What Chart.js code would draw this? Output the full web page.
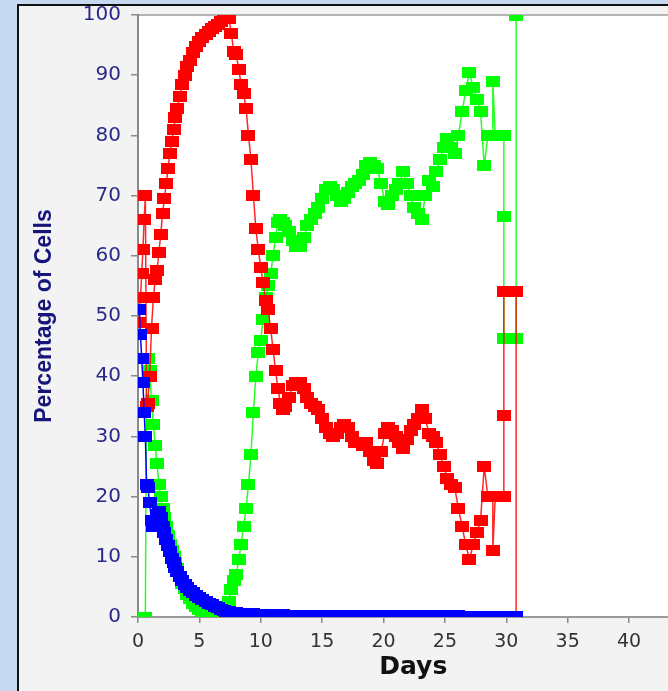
<!DOCTYPE html>
<html><head><meta charset="utf-8">
<script src="https://cdn.jsdelivr.net/npm/chart.js@4/dist/chart.umd.min.js"></script>
<style>
html,body{margin:0;padding:0;width:668px;height:691px;overflow:hidden;background:#c6d9f0;}
#panel{position:absolute;left:17px;top:4px;width:700px;height:700px;border-left:2px solid #111;border-top:2px solid #111;background:#f3f3f3;}
#c{position:absolute;left:0;top:0;}
</style></head><body>
<div id="panel"></div>
<canvas id="c" width="694" height="691"></canvas>
<script>
const days = [0.1,0.2,0.3,0.4,0.5,0.6,0.7,0.8,0.95,1.1,1.25,1.4,1.55,1.7,1.85,2.0,2.15,2.3,2.45,2.6,2.75,2.9,3.05,3.2,3.4,3.6,3.8,4.0,4.25,4.5,4.75,5.0,5.25,5.5,5.75,6.0,6.25,6.5,6.75,7.0,
7.2,7.4,7.6,7.8,8.0,8.2,8.4,8.6,8.8,9.0,9.2,9.4,9.6,9.8,10.0,10.2,10.4,10.6,10.8,11.0,11.2,11.4,11.6,11.8,
12.0,12.3,12.6,12.9,13.2,13.5,13.8,14.1,14.4,14.7,15.0,15.3,15.6,15.9,16.2,16.5,16.8,17.1,17.4,17.7,18.0,18.3,18.6,18.9,19.2,19.5,19.8,20.1,20.4,20.7,21.0,21.3,21.6,21.9,22.2,22.5,22.8,23.1,23.4,23.7,24.0,24.3,24.6,24.9,25.2,25.5,25.8,26.1,
26.4,26.7,27.0,27.3,27.6,27.9,28.2,28.5,28.9,28.9,29.1,29.8,29.8,29.8,30.8,30.8];

const redValues = [49,53,57,61,66,70,35,35.5,40,48,53,56,57.5,60.5,63.5,67,69.5,72,74.5,77,79,81,83,84.5,86.5,88.5,90,91.5,92.5,93.7,94.7,95.6,96.2,96.8,97.3,97.7,98.1,98.5,99,99.5,
99.8,99.5,97,94,93.5,91,88.5,87,84.5,80,76,70,64.5,61,58,55.5,52.5,51,48,44.5,41,38,35.5,34.5,
35,36.5,38.5,39,39,38,36.5,35.5,35,34.5,33,31.5,30.5,30,30.5,31.5,32,31.5,30,29,29,28.5,29,27.5,26,25.5,27.5,30.5,31.5,31,30,29,28,29.5,31,32,33,34.5,33,30.5,30,29,27,25,23,22,21.5,18,
15,12,9.5,12,14,16,25,20,20,11,20,20,33.5,54,54,0];

const greenValues = [0,0,0,0,0,0,43,43,41,36,32,28.5,25.5,22,20,18,16.5,15,13.5,12,11,10,9,8,6.8,5.6,4.7,3.8,3.0,2.3,1.7,1.2,0.9,0.6,0.4,0.3,0.2,0.1,0,0,
0.3,2.5,4.5,6,7,9.5,12,15,18,22,27,34,40,44,46,49.5,53,55,57,60,63,65.5,66,65.5,
65,64,62.5,61.5,61.5,63,65,66,67,68,69.5,71,71.5,71,70,69,69.5,70.5,71.5,72,72.5,73.5,75,75.5,75,74.5,72,69,68.5,70,71,72,74,72,70,68,67,66,70,72.5,71.5,74,76,78,79.5,78,77,80,
84,87.5,90.5,88,86,84,75,80,80,89,80,80,66.5,46.3,46.3,100];

const blueValues = [51,47,43,39,34,30,22,21.5,19,16,15,15.5,17,17.5,16.5,15,14,12.8,11.8,10.8,9.8,9,8.2,7.5,6.7,6,5.4,4.9,4.4,4.0,3.6,3.2,2.9,2.6,2.3,2.0,1.7,1.5,1.2,1.0,
0.9,0.85,0.8,0.75,0.7,0.65,0.6,0.6,0.55,0.5,0.5,0.5,0.45,0.45,0.45,0.4,0.4,0.4,0.4,0.4,0.35,0.35,0.35,0.35,
0.3,0.3,0.3,0.3,0.3,0.3,0.3,0.3,0.3,0.3,0.3,0.3,0.3,0.3,0.3,0.3,0.3,0.3,0.3,0.3,0.3,0.3,0.3,0.3,0.3,0.3,0.3,0.3,0.3,0.3,0.3,0.3,0.3,0.3,0.3,0.3,0.3,0.3,0.3,0.3,0.3,0.3,0.2,0.2,0.2,0.2,0.2,0.2,
0.15,0.15,0.15,0.15,0.15,0.15,0.15,0.15,0.15,0.15,0.15,0.15,0.15,0.15,0.15,0];

const xTickStep = 5;
const yTickStep = 10;

function marker(color){
  const c = document.createElement('canvas');
  c.width = 14; c.height = 11;
  const g = c.getContext('2d');
  g.fillStyle = color; g.fillRect(0,0,14,11);
  return c;
}
function series(vals){ return days.map((d,i)=>({x:d,y:vals[i]})); }

const bgPlugin = {
  id:'bg',
  beforeDraw(chart){
    const {ctx, chartArea:a} = chart;
    ctx.save();
    ctx.fillStyle = '#ffffff';
    ctx.fillRect(a.left, a.top, a.right - a.left, a.bottom - a.top);
    ctx.strokeStyle = '#b4b4b4';
    ctx.lineWidth = 2;
    ctx.beginPath(); ctx.moveTo(a.left, a.top); ctx.lineTo(a.right, a.top); ctx.stroke();
    ctx.restore();
  }
};

new Chart(document.getElementById('c'), {
  type:'scatter',
  data:{ datasets:[
    {label:'Blue', data:series(blueValues), showLine:true, borderColor:'#0000ff', backgroundColor:'#0000ff', borderWidth:1.5, pointStyle:marker('#0000ff'), clip:0},
    {label:'Red', data:series(redValues), showLine:true, borderColor:'rgba(255,0,0,0.85)', backgroundColor:'#ff0000', borderWidth:1.5, pointStyle:marker('#ff0000'), clip:0},
    {label:'Green', data:series(greenValues), showLine:true, borderColor:'rgba(0,255,0,0.85)', backgroundColor:'#00ff00', borderWidth:1.5, pointStyle:marker('#00ff00'), clip:0}
  ]},
  options:{
    responsive:false, animation:false, events:[],
    layout:{padding:{top:15,left:0,right:0,bottom:0}},
    plugins:{legend:{display:false}, tooltip:{enabled:false}},
    scales:{
      x:{type:'linear', min:0, max:44.84,
        afterFit(s){ s.height = 74; },
        ticks:{stepSize:xTickStep, includeBounds:false, maxRotation:0, color:'#333', padding:8, font:{family:'DejaVu Sans', size:19}},
        grid:{drawOnChartArea:false, drawTicks:true, tickLength:6, color:'#8a8a8a', lineWidth:1.5},
        border:{color:'#9a9a9a', width:2},
        title:{display:true, text:'Days', color:'#111', font:{family:'DejaVu Sans', size:25, weight:'bold'}, padding:{top:0,bottom:9}}
      },
      y:{min:0, max:100,
        afterFit(s){ s.width = 138; s.paddingTop = 0; s.paddingBottom = 0; },
        ticks:{stepSize:yTickStep, color:'#2a2a8a', padding:10, font:{family:'DejaVu Sans', size:20}},
        grid:{drawOnChartArea:false, drawTicks:true, tickLength:7, color:'#8a8a8a', lineWidth:1.5},
        border:{color:'#8a8a8a', width:2},
        title:{display:true, text:'Percentage of Cells', color:'#15157a', font:{family:"'Liberation Sans',sans-serif", size:23, weight:'bold'}, padding:{top:31,bottom:0}}
      }
    }
  },
  plugins:[bgPlugin]
});
</script>
</body></html>
